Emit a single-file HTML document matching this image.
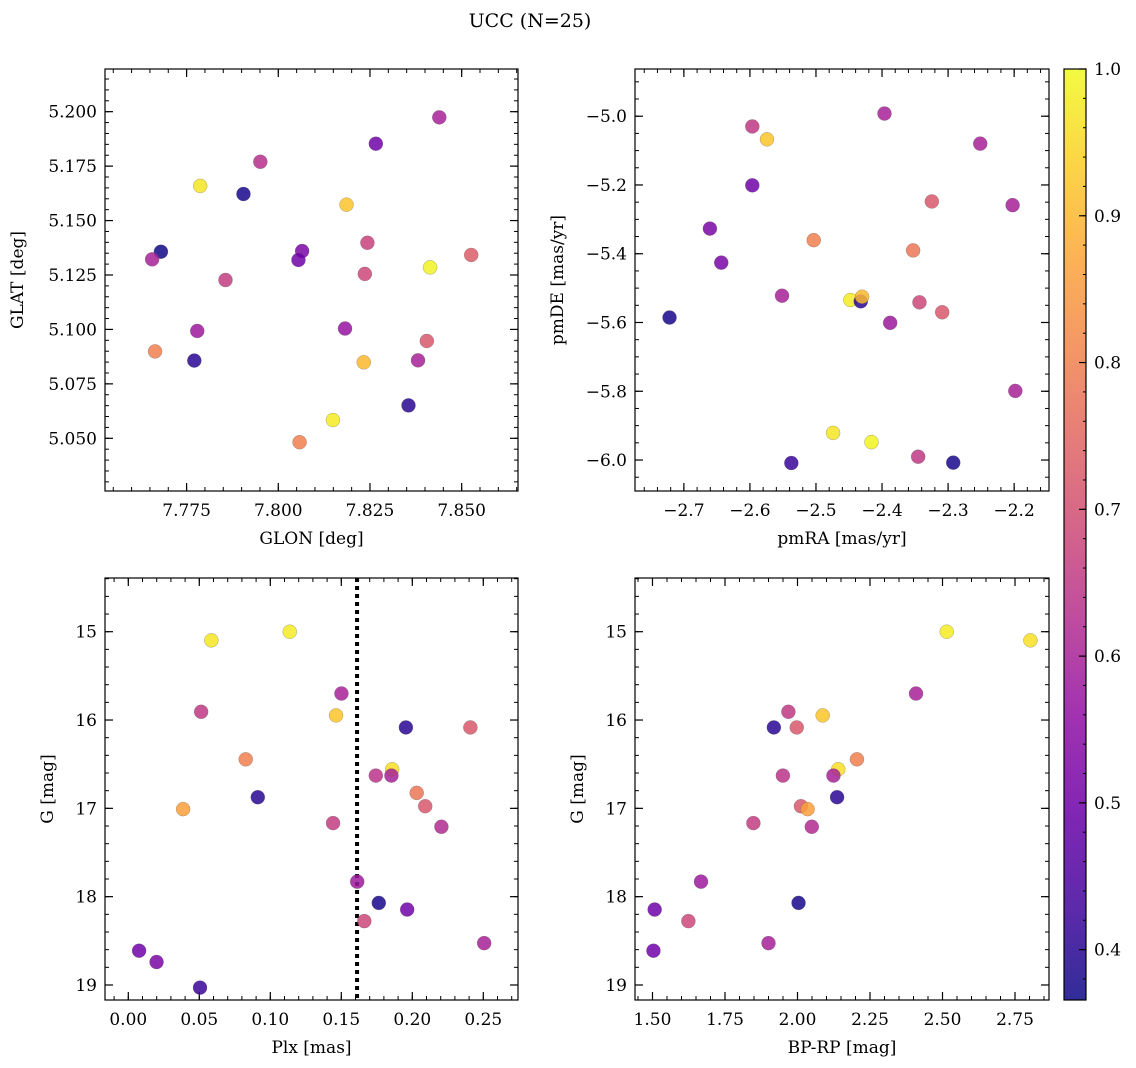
<!DOCTYPE html>
<html><head><meta charset="utf-8"><style>
body{margin:0;background:#fff;}
svg{display:block;font-family:"DejaVu Serif","Liberation Serif",serif;}
</style></head><body>
<svg id="fig" width="1136" height="1068" viewBox="0 0 1136 1068" xmlns="http://www.w3.org/2000/svg">
<text x="530" y="27" font-size="19" text-anchor="middle">UCC (N=25)</text>
</svg>
<script>
// ---- Panel 1: GLON vs GLAT ----
const glon = [7.8439,7.8266,7.7951,7.7787,7.7905,7.8186,7.8243,7.7680,7.8065,7.7656,7.8055,7.8526,7.8414,7.8236,7.7856,7.7779,7.8182,7.8405,7.7664,7.7771,7.8233,7.8381,7.8355,7.8149,7.8058];
const glat = [5.1974,5.1853,5.1770,5.1659,5.1622,5.1573,5.1398,5.1357,5.1360,5.1322,5.1319,5.1342,5.1285,5.1255,5.1227,5.0993,5.1004,5.0947,5.0899,5.0857,5.0849,5.0858,5.0651,5.0584,5.0482];
const prob1 = [0.60,0.50,0.63,0.97,0.38,0.92,0.67,0.37,0.52,0.60,0.50,0.73,0.99,0.68,0.66,0.58,0.57,0.72,0.80,0.40,0.90,0.60,0.40,0.98,0.80];
// ---- Panel 2: pmRA vs pmDE ----
const pmra = [-2.3963,-2.5964,-2.5742,-2.2513,-2.5964,-2.3246,-2.2023,-2.6606,-2.5034,-2.3529,-2.6434,-2.5514,-2.4479,-2.4322,-2.4302,-2.3433,-2.3089,-2.7217,-2.3877,-2.1982,-2.4741,-2.4160,-2.3453,-2.5373,-2.2922];
const pmde = [-4.9923,-5.0298,-5.0673,-5.0798,-5.2010,-5.2480,-5.2587,-5.3269,-5.3606,-5.3904,-5.4260,-5.5221,-5.5346,-5.5385,-5.5250,-5.5413,-5.5702,-5.5856,-5.6010,-5.7990,-5.9212,-5.9480,-5.9904,-6.0087,-6.0077];
const prob2 = [0.60,0.65,0.92,0.60,0.50,0.72,0.60,0.52,0.80,0.78,0.52,0.60,0.98,0.40,0.90,0.68,0.72,0.38,0.58,0.60,0.97,0.99,0.65,0.42,0.38];
// ---- Panel 3: Plx vs G ----
const plx = [0.0585,0.1137,0.1501,0.0513,0.1463,0.1955,0.2409,0.0827,0.1858,0.1743,0.1853,0.2031,0.0912,0.0386,0.2091,0.1442,0.2205,0.1612,0.1764,0.1964,0.1662,0.2506,0.0076,0.0199,0.0505];
const gmag3 = [15.098,15.000,15.700,15.907,15.948,16.084,16.084,16.445,16.558,16.629,16.629,16.825,16.874,17.009,16.976,17.167,17.209,17.830,18.071,18.146,18.277,18.526,18.612,18.740,19.030];
const prob3 = [0.97,0.98,0.60,0.65,0.92,0.40,0.72,0.80,0.96,0.64,0.60,0.78,0.40,0.86,0.72,0.66,0.62,0.58,0.38,0.50,0.68,0.60,0.50,0.52,0.42];
const plxCut = [0.1611];
// ---- Panel 4: BP-RP vs G ----
const bprp = [2.5146,2.8032,2.4087,1.9686,2.0869,1.9185,1.9974,2.2050,2.1406,1.9496,2.1240,2.1365,2.0119,2.0348,1.8479,2.0493,1.6673,2.0036,1.5075,1.6237,1.9000,1.5033];
const gmag4 = [15.000,15.098,15.700,15.907,15.948,16.084,16.084,16.445,16.558,16.629,16.629,16.874,16.976,17.009,17.167,17.209,17.830,18.071,18.146,18.277,18.526,18.612];
const prob4 = [0.98,0.96,0.60,0.65,0.92,0.40,0.72,0.80,0.96,0.64,0.60,0.40,0.72,0.86,0.66,0.62,0.58,0.38,0.50,0.68,0.60,0.50];
// ---- ticks ----
const ticks1x = [7.775,7.800,7.825,7.850];
const ticks1y = [5.050,5.075,5.100,5.125,5.150,5.175,5.200];
const ticks2x = [-2.7,-2.6,-2.5,-2.4,-2.3,-2.2];
const ticks2y = [-6.0,-5.8,-5.6,-5.4,-5.2,-5.0];
const ticks3x = [0.00,0.05,0.10,0.15,0.20,0.25];
const ticksGy = [15,16,17,18,19];
const ticks4x = [1.50,1.75,2.00,2.25,2.50,2.75];
const cbTicks = [0.4,0.5,0.6,0.7,0.8,0.9,1.0];
const cbMin = 0.3657, cbMax = 1.0;

const NS = "http://www.w3.org/2000/svg";
const svg = document.getElementById('fig');
function mk(tag, attrs, parent){ const e=document.createElementNS(NS,tag); for(const k in attrs) e.setAttribute(k,attrs[k]); (parent||svg).appendChild(e); return e; }

const plasma = [[13,8,135],[65,4,157],[106,0,168],[143,13,164],[177,42,144],[204,71,120],[225,100,98],[242,132,75],[252,166,54],[252,206,37],[240,249,33]];
function cmap(v){ let t=(v-cbMin)/(cbMax-cbMin); t=Math.max(0,Math.min(1,t)); const p=t*10; const i=Math.min(9,Math.floor(p)); const f=p-i; const a=plasma[i],b=plasma[i+1]; return 'rgb('+[0,1,2].map(k=>Math.round(a[k]+(b[k]-a[k])*f)).join(',')+')'; }

function fmt(v,d){ let s=v.toFixed(d); return s.replace('-','\u2212'); }
const FS = 17;

function panel(cfg){
  const {L,T,R,B,xmin,xmax,ymin,ymax,invY,xt,yt,xminor,yminor,xd,yd,xlabel,ylabel,ylabX,name} = cfg;
  const g = mk('g',{});
  
  
  const sx = v => L + (v-xmin)/(xmax-xmin)*(R-L);
  const sy = v => invY ? T + (v-ymin)/(ymax-ymin)*(B-T) : B - (v-ymin)/(ymax-ymin)*(B-T);
  for(let v=Math.ceil(xmin/xminor)*xminor; v<=xmax+1e-9; v+=xminor){ const x=sx(v); mk('line',{x1:x,x2:x,y1:B,y2:B-4,stroke:'#000','stroke-width':1},g); mk('line',{x1:x,x2:x,y1:T,y2:T+4,stroke:'#000','stroke-width':1},g); }
  for(let v=Math.ceil(ymin/yminor)*yminor; v<=ymax+1e-9; v+=yminor){ const y=sy(v); mk('line',{x1:L,x2:L+4,y1:y,y2:y,stroke:'#000','stroke-width':1},g); mk('line',{x1:R,x2:R-4,y1:y,y2:y,stroke:'#000','stroke-width':1},g); }
  xt.forEach(v=>{ const x=sx(v); mk('line',{x1:x,x2:x,y1:B,y2:B-8,stroke:'#000','stroke-width':1.2},g); mk('line',{x1:x,x2:x,y1:T,y2:T+8,stroke:'#000','stroke-width':1.2},g);
    const t=mk('text',{x:x,y:B+25,'font-size':FS,'text-anchor':'middle'},g); t.textContent=fmt(v,xd);
      });
  yt.forEach(v=>{ const y=sy(v); mk('line',{x1:L,x2:L+8,y1:y,y2:y,stroke:'#000','stroke-width':1.2},g); mk('line',{x1:R,x2:R-8,y1:y,y2:y,stroke:'#000','stroke-width':1.2},g);
    const t=mk('text',{x:L-8,y:y+6,'font-size':FS,'text-anchor':'end'},g); t.textContent=fmt(v,yd);
      });
  const xl=mk('text',{x:(L+R)/2,y:B+53,'font-size':FS,'text-anchor':'middle'},g); xl.textContent=xlabel;
   
  const yl=mk('text',{x:0,y:0,'font-size':FS,'text-anchor':'middle',transform:'translate('+ylabX+','+((T+B)/2)+') rotate(-90)'},g); yl.textContent=ylabel;
   
  return {g,sx,sy};
}
function scatter(p, xs, ys, cs){
  xs.forEach((xv,i)=>{
    const c=mk('circle',{cx:p.sx(xv),cy:p.sy(ys[i]),r:7,fill:cmap(cs[i]),'fill-opacity':0.85,stroke:'rgba(90,90,90,0.5)','stroke-width':0.5},p.g);
    
    
  });
}
function frame(p,cfg){ const r=mk('rect',{x:cfg.L,y:cfg.T,width:cfg.R-cfg.L,height:cfg.B-cfg.T,fill:'none',stroke:'#000','stroke-width':1.2},p.g);
    }

const c1={L:105,T:69,R:518,B:491,xmin:7.75275,xmax:7.86536,ymin:5.0258,ymax:5.2196,xt:ticks1x,yt:ticks1y,xminor:0.005,yminor:0.005,xd:3,yd:3,xlabel:'GLON [deg]',ylabel:'GLAT [deg]',ylabX:23,name:'panel-glon-glat'};
const p1=panel(c1); scatter(p1,glon,glat,prob1); frame(p1,c1);

const c2={L:635,T:69,R:1049,B:491,xmin:-2.7740,xmax:-2.1472,ymin:-6.0901,ymax:-4.8627,xt:ticks2x,yt:ticks2y,xminor:0.02,yminor:0.05,xd:1,yd:1,xlabel:'pmRA [mas/yr]',ylabel:'pmDE [mas/yr]',ylabX:563,name:'panel-pmra-pmde'};
const p2=panel(c2); scatter(p2,pmra,pmde,prob2); frame(p2,c2);

const c3={L:105,T:578,R:518,B:1000,xmin:-0.01641,xmax:0.27444,ymin:14.392,ymax:19.170,invY:true,xt:ticks3x,yt:ticksGy,xminor:0.01,yminor:0.2,xd:2,yd:0,xlabel:'Plx [mas]',ylabel:'G [mag]',ylabX:53,name:'panel-plx-g'};
const p3=panel(c3);
plxCut.forEach(v=>{ const l=mk('line',{x1:p3.sx(v),x2:p3.sx(v),y1:c3.T,y2:c3.B,stroke:'#000','stroke-width':4,'stroke-dasharray':'4 4'},p3.g);
    });
scatter(p3,plx,gmag3,prob3); frame(p3,c3);

const c4={L:635,T:578,R:1049,B:1000,xmin:1.4397,xmax:2.8672,ymin:14.392,ymax:19.170,invY:true,xt:ticks4x,yt:ticksGy,xminor:0.05,yminor:0.2,xd:2,yd:0,xlabel:'BP-RP [mag]',ylabel:'G [mag]',ylabX:583,name:'panel-bprp-g'};
const p4=panel(c4); scatter(p4,bprp,gmag4,prob4); frame(p4,c4);

const cb=mk('g',{});


const CL=1064,CR=1086,CT=69,CB=1000;
const defs=mk('defs',{},cb);
const grad=mk('linearGradient',{id:'pg',x1:0,y1:1,x2:0,y2:0},defs);
plasma.forEach((c,i)=>mk('stop',{offset:(i/10),'stop-color':'rgb('+c.join(',')+')'},grad));
mk('rect',{x:CL,y:CT,width:CR-CL,height:CB-CT,fill:'url(#pg)','fill-opacity':0.85},cb);
const csy=v=>CB-(v-cbMin)/(cbMax-cbMin)*(CB-CT);
for(let v=0.38; v<=1.0001; v+=0.02){ const y=csy(v); mk('line',{x1:CR,x2:CR-3,y1:y,y2:y,stroke:'#000','stroke-width':1},cb); }
cbTicks.forEach(v=>{ const y=csy(v); mk('line',{x1:CR,x2:CR-7,y1:y,y2:y,stroke:'#000','stroke-width':1.2},cb);
  const t=mk('text',{x:CR+8,y:y+6,'font-size':FS},cb); t.textContent=v.toFixed(1);
    });
mk('rect',{x:CL,y:CT,width:CR-CL,height:CB-CT,fill:'none',stroke:'#000','stroke-width':1.2},cb);
</script>
</body></html>
